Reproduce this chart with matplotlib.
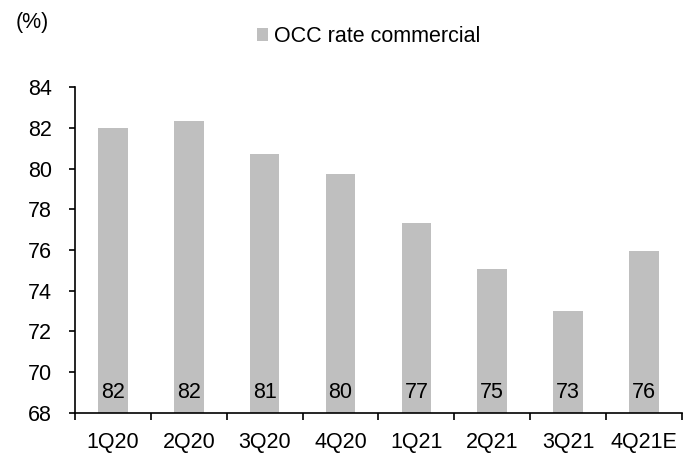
import matplotlib
matplotlib.use("Agg")
import matplotlib.pyplot as plt
import numpy as np

QUARTERS = ["1Q20", "2Q20", "3Q20", "4Q20", "1Q21", "2Q21", "3Q21", "4Q21E"]
OCC_RATE = [82.0, 82.35, 80.7, 79.75, 77.35, 75.05, 73.0, 75.95]
BAR_LABELS = ["82", "82", "81", "80", "77", "75", "73", "76"]

BAR_COLOR = "#bfbfbf"
TEXT_COLOR = "#000000"
FS = 15.5

plt.rcParams["font.family"] = ["Liberation Sans", "DejaVu Sans"]

fig = plt.figure(figsize=(6.92, 4.53), dpi=100)
ax = fig.add_axes([0.1084, 0.089, 0.877, 0.7183])

x = np.arange(len(QUARTERS))
ax.bar(x, OCC_RATE, width=0.39, color=BAR_COLOR, zorder=2,
       label="OCC rate commercial")

for xi, lbl in zip(x, BAR_LABELS):
    ax.text(xi, 69.0, lbl, ha="center", va="center",
            fontsize=FS, color=TEXT_COLOR, zorder=3)

ax.set_ylim(68, 84)
ax.set_yticks(np.arange(68, 85, 2))
ax.set_xlim(-0.5, len(QUARTERS) - 0.5)

# labels at bar centres, tick marks at category boundaries
ax.set_xticks(x, QUARTERS)
ax.set_xticks(np.arange(-0.5, len(QUARTERS), 1.0), minor=True)
ax.tick_params(axis="x", which="major", length=0, pad=14,
               labelsize=FS, colors=TEXT_COLOR)
ax.tick_params(axis="x", which="minor", length=5, width=1.2,
               direction="out", color=TEXT_COLOR)
ax.tick_params(axis="y", length=4.5, width=1.2, direction="out",
               pad=12, labelsize=FS, colors=TEXT_COLOR)

ax.spines[["top", "right"]].set_visible(False)
for side in ["left", "bottom"]:
    ax.spines[side].set_linewidth(1.2)
    ax.spines[side].set_color(TEXT_COLOR)

fig.text(0.022, 0.951, "(%)", fontsize=FS, color=TEXT_COLOR,
         ha="left", va="center")

fig.legend(loc="center", bbox_to_anchor=(0.533, 0.919), frameon=False,
           fontsize=FS, handlelength=0.5, handleheight=0.5,
           handletextpad=0.3, borderaxespad=0)

fig.savefig("out.png", dpi=100, facecolor="white")
